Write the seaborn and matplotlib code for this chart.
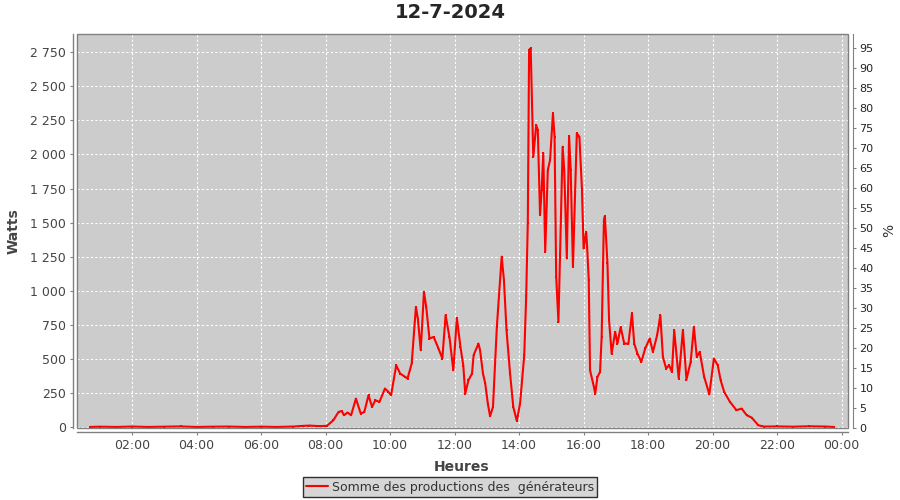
import matplotlib
matplotlib.use("Agg")
import matplotlib.pyplot as plt
import matplotlib.ticker as mticker
from matplotlib.patches import Rectangle
import seaborn as sns
import pandas as pd

# Time of day in decimal hours, production in watts
hours = [
    0.70, 1.00, 1.50, 2.00, 2.50, 3.00, 3.50, 4.00, 4.50, 5.00, 5.50, 6.00,
    6.50, 7.00, 7.30, 7.50, 7.80, 8.04, 8.24, 8.40, 8.50, 8.57, 8.68, 8.79,
    8.94, 9.09, 9.20, 9.33, 9.44, 9.54, 9.67, 9.84, 9.95, 10.03, 10.19, 10.31,
    10.47, 10.54, 10.67, 10.80, 10.86, 10.95, 11.05, 11.12, 11.22, 11.35, 11.50,
    11.62, 11.72, 11.84, 11.96, 12.07, 12.18, 12.27, 12.33, 12.43, 12.54, 12.59,
    12.74, 12.79, 12.88, 12.95, 13.03, 13.10, 13.19, 13.31, 13.46, 13.53, 13.61,
    13.72, 13.82, 13.93, 14.03, 14.16, 14.22, 14.27, 14.31, 14.36, 14.44, 14.53,
    14.58, 14.65, 14.70, 14.75, 14.81, 14.89, 14.96, 15.05, 15.10, 15.15, 15.22,
    15.35, 15.40, 15.48, 15.55, 15.60, 15.67, 15.79, 15.87, 15.95, 16.00, 16.08,
    16.11, 16.16, 16.20, 16.32, 16.36, 16.43, 16.51, 16.56, 16.63, 16.66, 16.74,
    16.79, 16.87, 16.98, 17.05, 17.15, 17.26, 17.39, 17.50, 17.57, 17.67, 17.79,
    17.91, 18.05, 18.15, 18.28, 18.38, 18.46, 18.56, 18.65, 18.74, 18.81, 18.95,
    19.08, 19.19, 19.32, 19.42, 19.51, 19.60, 19.74, 19.90, 20.04, 20.16, 20.25,
    20.36, 20.54, 20.74, 20.90, 21.06, 21.21, 21.42, 21.60, 22.00, 22.50, 23.00,
    23.50, 23.75,
]
watts = [
    0, 2, 0, 3, 0, 2, 4, 0, 2, 3, 0, 2,
    0, 3, 8, 10, 6, 8, 49, 110, 117, 86, 106, 86,
    208, 98, 110, 233, 147, 196, 184, 282, 257, 233, 453, 392,
    367, 355, 466, 881, 796, 563, 992, 881, 649, 661, 576,
    502, 820, 661, 416, 800, 590, 450, 245, 343, 392, 527,
    612, 563, 392, 319, 172, 79, 147, 734, 1250, 1077, 710,
    392, 147, 44, 172, 527, 960, 1500, 2767, 2779, 1983, 2216,
    2179, 1555, 1739, 2008, 1285, 1885, 1959, 2302, 2130, 1102, 771,
    2057, 1885, 1237, 2135, 1885, 1175, 2155, 2130, 1739, 1310, 1432,
    1322, 1077, 416, 294, 245, 367, 404, 661, 1518, 1548, 1200,
    784, 539, 698, 612, 734, 612, 612, 833, 612, 539, 477,
    576, 649, 551, 673, 820, 514, 429, 453, 404, 710, 355,
    710, 348, 477, 734, 514, 551, 367, 240, 502, 453, 343,
    257, 184, 123, 135, 86, 69, 12, 3, 4, 2, 5,
    3, 0,
]
hour_ticks = [2, 4, 6, 8, 10, 12, 14, 16, 18, 20, 22, 24]
hour_labels = ["02:00", "04:00", "06:00", "08:00", "10:00", "12:00",
               "14:00", "16:00", "18:00", "20:00", "22:00", "00:00"]
pct_ticks = list(range(0, 100, 5))

series_label = "Somme des productions des  générateurs"
chart_title = "12-7-2024"

df = pd.DataFrame({"heure": hours, "watts": watts})

sns.set_style("darkgrid", {
    "axes.facecolor": "#cccccc",
    "grid.color": "white",
    "grid.linestyle": (0, (2, 2)),
})
plt.rcParams["font.family"] = ["DejaVu Sans"]

fig = plt.figure(figsize=(9, 5), dpi=100)
ax = fig.add_axes([0.0859, 0.145, 0.8567, 0.7864])

sns.lineplot(data=df, x="heure", y="watts", ax=ax, color="red", linewidth=1.5,
             marker="s", markersize=1.5, markeredgewidth=0, sort=False,
             estimator=None, legend=False, label=series_label)

ax.set_xlim(0.30, 24.21)
ax.set_ylim(-4, 2882)
ax.set_xticks(hour_ticks)
ax.set_xticklabels(hour_labels)
ax.set_yticks(range(0, 2751, 250))
ax.yaxis.set_major_formatter(mticker.FuncFormatter(lambda v, p: f"{int(v):,}".replace(",", " ")))
ax.grid(True, linewidth=0.8)

ax.set_xlabel("Heures", fontsize=10, fontweight="bold", color="#444444")
ax.set_ylabel("Watts", fontsize=10, fontweight="bold", color="#444444")
ax.xaxis.set_label_coords(0.499, -0.083)
ax.yaxis.set_label_coords(-0.074, 0.5)

for side in ["top", "right"]:
    ax.spines[side].set_visible(False)
for side in ["left", "bottom"]:
    ax.spines[side].set_position(("outward", 3))
    ax.spines[side].set_color("#808080")
    ax.spines[side].set_linewidth(1)
ax.tick_params(axis="both", which="major", length=2, width=0.8, color="#808080",
               labelsize=9, labelcolor="#444444", pad=3, left=True, bottom=True)

# plot frame
ax.add_patch(Rectangle((0, 0), 1, 1, transform=ax.transAxes, fill=False,
                       edgecolor="#808080", linewidth=1, clip_on=False, zorder=5))

# right percentage axis
ax2 = ax.twinx()
ax2.set_ylim(0, 98.5)
ax2.set_yticks(pct_ticks)
ax2.grid(False)
for side in ["top", "bottom", "left"]:
    ax2.spines[side].set_visible(False)
ax2.spines["right"].set_position(("outward", 3))
ax2.spines["right"].set_color("#808080")
ax2.tick_params(axis="y", length=2, width=0.8, color="#808080", labelsize=8,
                labelcolor="#222222", pad=3, right=True)
ax2.set_ylabel("%", fontsize=10, color="#333333")
ax2.yaxis.set_label_coords(1.044, 0.5)

fig.suptitle(chart_title, y=0.974, va="center", fontsize=14, fontweight="bold")

leg = fig.legend(handles=ax.get_lines()[:1], labels=[series_label], loc="center",
                 bbox_to_anchor=(0.5, 0.026), fontsize=9, frameon=True,
                 fancybox=False, edgecolor="black", handlelength=1.8,
                 handletextpad=0.3, borderpad=0.25, borderaxespad=0)
leg.get_frame().set_linewidth(1)
for t in leg.get_texts():
    t.set_color("#333333")

fig.savefig("out.png", dpi=100)
